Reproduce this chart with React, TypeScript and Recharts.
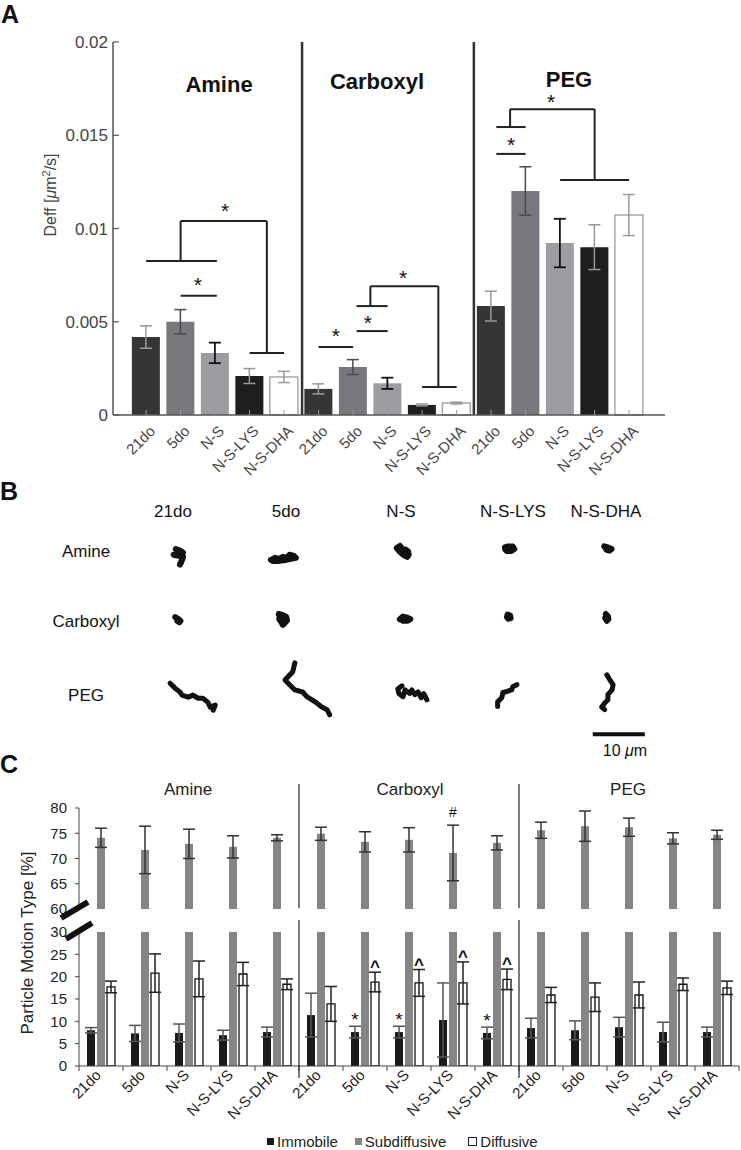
import React from "react";
import {
  ComposedChart,
  BarChart,
  LineChart,
  Bar,
  Line,
  XAxis,
  YAxis,
  ErrorBar,
  ReferenceLine,
  ReferenceDot,
  Cell,
} from "recharts";

const FONT = '"Liberation Sans", Arial, Helvetica, sans-serif';

// ---------- Panel A: effective diffusivity ----------
const conditions = ["21do", "5do", "N-S", "N-S-LYS", "N-S-DHA"];
const groups = ["Amine", "Carboxyl", "PEG"];

const deffAmine = [0.00418, 0.005, 0.00333, 0.00209, 0.00204];
const deffAmineErr = [0.0006, 0.00065, 0.00055, 0.0004, 0.0003];
const deffCarboxyl = [0.0014, 0.00257, 0.0017, 0.00054, 0.00064];
const deffCarboxylErr = [0.00027, 0.0004, 0.0003, 0.00005, 0.00005];
const deffPeg = [0.00584, 0.01201, 0.00922, 0.009, 0.01072];
const deffPegErr = [0.0008, 0.0013, 0.0013, 0.0012, 0.0011];

const deffTicks = [0, 0.005, 0.01, 0.015, 0.02];

// significance brackets [x1, y1, x2, y2] in (bar index, Deff) units
const bracketsAmine = [
  [0, 0.00826, 2.05, 0.00826],
  [1, 0.00826, 1, 0.0104],
  [1, 0.0104, 3.5, 0.0104],
  [3.5, 0.0104, 3.5, 0.00333],
  [3, 0.00333, 4, 0.00333],
  [1, 0.0064, 2.05, 0.0064],
];
const bracketsCarboxyl = [
  [5, 0.00365, 6, 0.00365],
  [6.1, 0.0045, 7, 0.0045],
  [6.1, 0.00584, 7, 0.00584],
  [6.5, 0.00584, 6.5, 0.0069],
  [6.5, 0.0069, 8.47, 0.0069],
  [8.47, 0.0069, 8.47, 0.0015],
  [8, 0.0015, 9, 0.0015],
];
const bracketsPeg = [
  [10.15, 0.014, 11, 0.014],
  [10.15, 0.01544, 11, 0.01544],
  [10.55, 0.01544, 10.55, 0.0164],
  [10.55, 0.0164, 13, 0.0164],
  [13, 0.0164, 13, 0.0126],
  [12, 0.0126, 14, 0.0126],
];
const starsA = [
  [2.29, 0.0111],
  [1.5, 0.00713],
  [5.5, 0.0044],
  [6.43, 0.0051],
  [7.45, 0.0075],
  [10.58, 0.01464],
  [11.74, 0.01694],
];

const fillA = ["#353535", "#77787b", "#9c9da0", "#1f1d1e", "#ffffff"];
const errKeyA = ["errL", "errD", "errK", "errL", "errL"];

const dataA = [
  [deffAmine, deffAmineErr],
  [deffCarboxyl, deffCarboxylErr],
  [deffPeg, deffPegErr],
].flatMap(([vals, errs], g) =>
  vals.map((v, i) => ({
    x: g * 5 + i,
    deff: v,
    [errKeyA[i]]: errs[i],
  }))
);

// ---------- Panel B: example trajectories (µm) ----------
const originsAmine = [
  [34.4, 16.5],
  [54.4, 16.7],
  [77.5, 15.6],
  [98.1, 15.2],
  [116.9, 15.0],
];
const tracksAmine = [
  [[-0.6, -1.3], [0.2, -1.0], [0.8, -0.6], [-0.2, -0.6], [-1.0, -0.2], [0, 0], [0.8, 0.2], [0.6, 0.8], [0.4, 1.3], [0.2, 1.7]],
  [[-2.3, 0.6], [-1.5, 0.2], [-0.8, 0.4], [0, 0], [0.8, 0.2], [1.3, -0.4], [2.1, -0.2], [2.5, 0.2], [1.5, 0.4], [0.4, 0.6], [-1.0, 0.8], [-1.9, 0.8]],
  [[-1.2, -0.6], [-0.6, -1.0], [-0.2, -0.5], [0.5, -0.3], [1.0, 0.1], [1.1, 0.7], [0.8, 1.1], [0.2, 0.8], [-0.4, 0.3], [-0.9, -0.2], [0.3, 0.2]],
  [[-1.0, -0.3], [-0.4, -0.5], [0.5, -0.5], [0.8, 0], [0.2, 0.4], [-0.6, 0.4], [-0.9, 0.1], [0.2, -0.1]],
  [[-0.7, -0.3], [0, -0.1], [0.7, 0.2], [0.3, 0.5], [-0.3, 0.3]],
];
const originsCarboxyl = [
  [34.2, 28.8],
  [54.4, 28.7],
  [77.9, 28.7],
  [97.9, 28.3],
  [116.7, 28.3],
];
const tracksCarboxyl = [
  [[-0.5, -0.5], [0, -0.2], [0.5, 0.2], [0.3, 0.5], [-0.1, 0.2]],
  [[-0.8, -1.0], [0, -0.8], [0.6, -0.5], [0.8, 0.2], [0.3, 0.8], [0, 1.1], [-0.3, 0.5], [-0.7, 0], [-0.6, -0.6], [0.1, -0.1]],
  [[-1.0, 0], [-0.4, -0.5], [0.4, -0.3], [1.0, 0], [0.5, 0.3], [-0.4, 0.3], [0, 0]],
  [[-0.3, -0.5], [0.2, -0.3], [0.3, 0.2], [-0.2, 0.3], [-0.4, 0]],
  [[-0.2, -0.6], [0.2, -0.2], [0.3, 0.4], [0, 0.7], [-0.3, 0.2]],
];
const originsPeg = [
  [32.7, 41.0],
  [56.7, 37.1],
  [77.3, 41.5],
  [99.4, 41.3],
  [116.7, 39.4],
];
const tracksPeg = [
  [[0, 0], [1.0, 1.0], [1.9, 1.7], [2.3, 2.3], [3.5, 2.7], [4.4, 2.3], [5.4, 2.9], [6.3, 2.9], [7.3, 3.7], [7.7, 4.6], [8.7, 4.2], [8.3, 5.2]],
  [[0, 0], [-0.4, 1.7], [-1.9, 3.3], [-1.0, 4.2], [0, 5.2], [1.5, 5.6], [2.3, 6.5], [3.3, 7.1], [4.2, 7.7], [5.2, 8.5], [6.2, 9.0], [6.7, 10.0]],
  [[0, 0], [-0.8, 0.6], [-0.6, 1.5], [0.2, 2.1], [0.6, 0.8], [1.5, 1.5], [1.9, 0.8], [2.5, 1.7], [3.1, 1.2], [3.7, 2.3], [4.2, 1.5], [4.8, 2.7]],
  [[0, 0], [-0.8, 0.4], [-1.0, 1.0], [-1.9, 1.3], [-2.7, 1.5], [-2.9, 2.5], [-3.7, 3.3], [-3.7, 4.2]],
  [[0, 0], [0.6, 1.0], [1.2, 1.9], [1.0, 2.9], [0.2, 3.8], [0.2, 4.8], [-0.4, 5.4], [-1.0, 6.2], [-0.4, 6.7]],
];
const scaleBar = [
  { x: 114, y: 50.8 },
  { x: 124, y: 50.8 },
];

// ---------- Panel C: motion type percentages ----------
const immAmine = [8.0, 7.3, 7.4, 6.9, 7.6];
const immAmineErr = [0.6, 1.8, 2.0, 1.1, 1.1];
const subAmine = [74.1, 71.7, 72.9, 72.3, 74.1];
const subAmineErr = [1.9, 4.7, 2.9, 2.2, 0.6];
const diffAmine = [17.7, 20.8, 19.5, 20.6, 18.3];
const diffAmineErr = [1.3, 4.3, 4.0, 2.6, 1.2];

const immCarboxyl = [11.4, 7.6, 7.6, 10.3, 7.4];
const immCarboxylErr = [4.9, 1.3, 1.3, 8.3, 1.3];
const subCarboxyl = [74.9, 73.3, 73.7, 71.1, 73.1];
const subCarboxylErr = [1.3, 2.0, 2.4, 5.5, 1.4];
const diffCarboxyl = [13.9, 18.8, 18.6, 18.6, 19.4];
const diffCarboxylErr = [3.9, 2.2, 3.0, 4.7, 2.3];

const immPeg = [8.5, 8.0, 8.7, 7.6, 7.6];
const immPegErr = [2.2, 2.1, 2.2, 2.2, 1.1];
const subPeg = [75.6, 76.4, 76.2, 74.0, 74.7];
const subPegErr = [1.6, 3.0, 1.8, 1.1, 0.9];
const diffPeg = [15.9, 15.4, 15.9, 18.3, 17.5];
const diffPegErr = [1.7, 3.2, 2.9, 1.4, 1.5];

const immMarksCarboxyl = ["", "*", "*", "", "*"];
const subMarksCarboxyl = ["", "", "", "#", ""];
const diffMarksCarboxyl = ["", "^", "^", "^", "^"];

const dataC = [
  [immAmine, immAmineErr, subAmine, subAmineErr, diffAmine, diffAmineErr],
  [immCarboxyl, immCarboxylErr, subCarboxyl, subCarboxylErr, diffCarboxyl, diffCarboxylErr],
  [immPeg, immPegErr, subPeg, subPegErr, diffPeg, diffPegErr],
].flatMap(([imm, immErr, sub, subErr, diff, diffErr], g) =>
  conditions.map((c, i) => ({
    key: `${groups[g]}|${c}`,
    imm: imm[i],
    immErr: immErr[i],
    sub: sub[i],
    subErr: subErr[i],
    diff: diff[i],
    diffErr: diffErr[i],
  }))
);

const textMark =
  (sym: string, dx: number, size: number, lift: number, bold = false) =>
  (p: any) =>
    (
      <text
        x={p.cx + dx}
        y={p.cy + lift}
        textAnchor="middle"
        fontSize={size}
        fontWeight={bold ? "bold" : "normal"}
        fill="#111"
        fontFamily={FONT}
      >
        {sym}
      </text>
    );

function renderATickX(props: any) {
  const { x, y, payload } = props;
  const ax = x + 10;
  const ay = y + 17;
  return (
    <g>
      <line x1={x} x2={x} y1={y - 5} y2={y} stroke="#999" strokeWidth={1} />
      <text
        x={ax}
        y={ay}
        transform={`rotate(-45 ${ax} ${ay})`}
        textAnchor="end"
        fontSize={15}
        fill="#444"
        fontFamily={FONT}
      >
        {conditions[payload.value % 5]}
      </text>
    </g>
  );
}

function renderATickY(props: any) {
  const { x, y, payload } = props;
  return (
    <g>
      <line x1={x} x2={x + 6} y1={y} y2={y} stroke="#555" strokeWidth={1.2} />
      <text x={x - 5} y={y + 6} textAnchor="end" fontSize={17} fill="#444" fontFamily={FONT}>
        {String(payload.value)}
      </text>
    </g>
  );
}

function renderCTickX(props: any) {
  const { x, y, payload, index } = props;
  const cond = String(payload.value).split("|")[1];
  const half = 22;
  const ax = x + 1;
  const ay = y + 10;
  return (
    <g>
      <line x1={x - half} x2={x - half} y1={y} y2={y + 5} stroke="#444" />
      {index === 14 && <line x1={x + half} x2={x + half} y1={y} y2={y + 5} stroke="#444" />}
      <text
        x={ax}
        y={ay}
        transform={`rotate(-45 ${ax} ${ay})`}
        textAnchor="end"
        fontSize={15}
        fill="#222"
        fontFamily={FONT}
      >
        {cond}
      </text>
    </g>
  );
}

function PanelA() {
  const brackets = [...bracketsAmine, ...bracketsCarboxyl, ...bracketsPeg];
  return (
    <div style={{ position: "absolute", left: 0, top: 0 }}>
      <ComposedChart
        width={741}
        height={505}
        data={dataA}
        margin={{ top: 42, right: 76, bottom: 0, left: 0 }}
      >
        <XAxis
          type="number"
          dataKey="x"
          domain={[-0.96, 15.04]}
          ticks={dataA.map((d) => d.x)}
          interval={0}
          height={90}
          tickSize={0}
          tickMargin={0}
          tickLine={false}
          axisLine={{ stroke: "#555", strokeWidth: 1.5 }}
          tick={renderATickX}
          allowDataOverflow
        />
        <YAxis
          type="number"
          domain={[0, 0.02]}
          ticks={deffTicks}
          interval={0}
          width={113}
          tickSize={0}
          tickMargin={0}
          tickLine={false}
          axisLine={{ stroke: "#555", strokeWidth: 1.5 }}
          tick={renderATickY}
        />
        <ReferenceLine x={4.52} stroke="#333" strokeWidth={2.5} />
        <ReferenceLine x={9.5} stroke="#333" strokeWidth={2.5} />
        <Bar dataKey="deff" barSize={28} isAnimationActive={false}>
          {dataA.map((d, i) => (
            <Cell
              key={i}
              fill={fillA[i % 5]}
              stroke={i % 5 === 4 ? "#a8a8a8" : "none"}
              strokeWidth={1.5}
            />
          ))}
          <ErrorBar dataKey="errL" direction="y" width={6} stroke="#999" strokeWidth={1.5} />
          <ErrorBar dataKey="errD" direction="y" width={6} stroke="#4a4a4a" strokeWidth={1.5} />
          <ErrorBar dataKey="errK" direction="y" width={6} stroke="#111" strokeWidth={1.8} />
        </Bar>
        {brackets.map(([x1, y1, x2, y2], i) => (
          <ReferenceLine
            key={`br${i}`}
            segment={[
              { x: x1, y: y1 },
              { x: x2, y: y2 },
            ]}
            stroke="#222"
            strokeWidth={2}
          />
        ))}
        {starsA.map(([x, y], i) => (
          <ReferenceDot key={`st${i}`} x={x} y={y} r={0} shape={textMark("*", 0, 21, 10)} />
        ))}
      </ComposedChart>
    </div>
  );
}

function PanelB() {
  const all = [
    ...tracksAmine.map((t, i) => ({ t, o: originsAmine[i], w: 6 })),
    ...tracksCarboxyl.map((t, i) => ({ t, o: originsCarboxyl[i], w: 6 })),
    ...tracksPeg.map((t, i) => ({ t, o: originsPeg[i], w: 5 })),
  ];
  return (
    <div style={{ position: "absolute", left: 0, top: 470 }}>
      <LineChart width={741} height={300} margin={{ top: 0, right: 0, bottom: 0, left: 0 }}>
        <XAxis type="number" dataKey="x" domain={[0, 142.5]} hide allowDataOverflow />
        <YAxis type="number" dataKey="y" domain={[0, 57.7]} reversed hide allowDataOverflow />
        {all.map(({ t, o, w }, i) => (
          <Line
            key={i}
            data={t.map(([dx, dy]) => ({ x: o[0] + dx, y: o[1] + dy }))}
            dataKey="y"
            stroke="#111"
            strokeWidth={w}
            strokeLinejoin="round"
            strokeLinecap="round"
            dot={false}
            isAnimationActive={false}
          />
        ))}
        <Line
          data={scaleBar}
          dataKey="y"
          stroke="#111"
          strokeWidth={4}
          dot={false}
          isAnimationActive={false}
        />
      </LineChart>
    </div>
  );
}

function PanelC() {
  return (
    <>
      <div style={{ position: "absolute", left: 0, top: 780 }}>
        <BarChart
          width={741}
          height={140}
          data={dataC}
          margin={{ top: 28, right: 2, bottom: 11, left: 0 }}
          barSize={8}
          barGap={2}
        >
          <XAxis dataKey="key" hide />
          <YAxis
            domain={[60, 80]}
            ticks={[60, 65, 70, 75, 80]}
            interval={0}
            width={79}
            tickSize={4}
            tickMargin={8}
            allowDataOverflow
            axisLine={{ stroke: "#444" }}
            tickLine={{ stroke: "#444" }}
            tick={{ fontSize: 15, fill: "#222", fontFamily: FONT }}
          />
          <Bar dataKey="immHidden" fill="#1a1a1a" isAnimationActive={false} />
          <Bar dataKey="sub" fill="#858585" isAnimationActive={false}>
            <ErrorBar dataKey="subErr" direction="y" width={6} stroke="#333" strokeWidth={1.5} />
          </Bar>
          <Bar dataKey="diffHidden" fill="#fff" isAnimationActive={false} />
          {dataC.map((d, i) =>
            i >= 5 && i < 10 && subMarksCarboxyl[i - 5] ? (
              <ReferenceDot
                key={`s${i}`}
                x={d.key}
                y={d.sub + d.subErr}
                r={0}
                shape={textMark(subMarksCarboxyl[i - 5], 0, 14, -8)}
              />
            ) : null
          )}
        </BarChart>
      </div>
      <div style={{ position: "absolute", left: 0, top: 900 }}>
        <BarChart
          width={741}
          height={250}
          data={dataC}
          margin={{ top: 32, right: 2, bottom: 0, left: 0 }}
          barSize={8}
          barGap={2}
        >
          <XAxis
            dataKey="key"
            height={84}
            interval={0}
            tickSize={0}
            tickMargin={0}
            tickLine={false}
            axisLine={{ stroke: "#444" }}
            tick={renderCTickX}
          />
          <YAxis
            domain={[0, 30]}
            ticks={[0, 5, 10, 15, 20, 25, 30]}
            interval={0}
            width={79}
            tickSize={4}
            tickMargin={8}
            allowDataOverflow
            axisLine={{ stroke: "#444" }}
            tickLine={{ stroke: "#444" }}
            tick={{ fontSize: 15, fill: "#222", fontFamily: FONT }}
          />
          <Bar dataKey="imm" fill="#1a1a1a" isAnimationActive={false}>
            <ErrorBar dataKey="immErr" direction="y" width={6} stroke="#555" strokeWidth={1.5} />
          </Bar>
          <Bar dataKey="sub" fill="#858585" isAnimationActive={false} />
          <Bar dataKey="diff" fill="#fff" stroke="#111" strokeWidth={1.3} isAnimationActive={false}>
            <ErrorBar dataKey="diffErr" direction="y" width={6} stroke="#222" strokeWidth={1.5} />
          </Bar>
          {dataC.map((d, i) =>
            i >= 5 && i < 10 && immMarksCarboxyl[i - 5] ? (
              <ReferenceDot
                key={`i${i}`}
                x={d.key}
                y={d.imm + d.immErr}
                r={0}
                shape={textMark(immMarksCarboxyl[i - 5], -10, 19, 0)}
              />
            ) : null
          )}
          {dataC.map((d, i) =>
            i >= 5 && i < 10 && diffMarksCarboxyl[i - 5] ? (
              <ReferenceDot
                key={`d${i}`}
                x={d.key}
                y={d.diff + d.diffErr}
                r={0}
                shape={textMark(diffMarksCarboxyl[i - 5], 10, 17, 0, true)}
              />
            ) : null
          )}
        </BarChart>
      </div>
    </>
  );
}

const abs = (left: number, top: number, extra: React.CSSProperties = {}): React.CSSProperties => ({
  position: "absolute",
  left,
  top,
  transform: "translate(-50%, -50%)",
  whiteSpace: "nowrap",
  lineHeight: 1.1,
  ...extra,
});

export default function App() {
  const bCols = [173, 286, 401, 513, 606];
  const bRows = [552, 622, 696];
  return (
    <div
      style={{
        position: "absolute",
        left: 0,
        top: 0,
        width: 741,
        height: 1150,
        background: "#fff",
        fontFamily: FONT,
        overflow: "hidden",
      }}
    >
      <PanelB />
      <PanelA />
      <PanelC />

      {/* panel letters */}
      <div style={abs(10, 14, { fontSize: 25, fontWeight: "bold", color: "#111", lineHeight: 1 })}>A</div>
      <div style={abs(9, 491, { fontSize: 25, fontWeight: "bold", color: "#111", lineHeight: 1 })}>B</div>
      <div style={abs(9, 764, { fontSize: 25, fontWeight: "bold", color: "#111", lineHeight: 1 })}>C</div>

      {/* panel A labels */}
      <div style={abs(50, 195, { fontSize: 16, color: "#444", transform: "translate(-50%, -50%) rotate(-90deg)" })}>
        Deff [<i>μ</i>m<sup style={{ fontSize: 11 }}>2</sup>/s]
      </div>
      <div style={abs(219, 85, { fontSize: 22, fontWeight: "bold", color: "#111" })}>Amine</div>
      <div style={abs(377, 82, { fontSize: 22, fontWeight: "bold", color: "#111" })}>Carboxyl</div>
      <div style={abs(569, 80, { fontSize: 22, fontWeight: "bold", color: "#111" })}>PEG</div>

      {/* panel B labels */}
      {conditions.map((c, i) => (
        <div key={c} style={abs(bCols[i], 512, { fontSize: 17, color: "#111" })}>
          {c}
        </div>
      ))}
      {groups.map((g, i) => (
        <div key={g} style={abs(86, bRows[i], { fontSize: 17, color: "#111" })}>
          {g}
        </div>
      ))}
      <div style={abs(625, 751, { fontSize: 16, color: "#111" })}>
        10 <i>μ</i>m
      </div>

      {/* panel C labels */}
      <div style={abs(188, 790, { fontSize: 17, color: "#222" })}>Amine</div>
      <div style={abs(410, 790, { fontSize: 17, color: "#222" })}>Carboxyl</div>
      <div style={abs(628, 790, { fontSize: 17, color: "#222" })}>PEG</div>
      <div style={abs(28, 943, { fontSize: 17, color: "#222", transform: "translate(-50%, -50%) rotate(-90deg)" })}>
        Particle Motion Type [%]
      </div>

      <svg width={741} height={1150} style={{ position: "absolute", left: 0, top: 0, pointerEvents: "none" }}>
        <line x1={299} x2={299} y1={784} y2={908} stroke="#222" strokeWidth={1.2} />
        <line x1={299} x2={299} y1={920} y2={1078} stroke="#222" strokeWidth={1.2} />
        <line x1={519} x2={519} y1={784} y2={908} stroke="#222" strokeWidth={1.2} />
        <line x1={519} x2={519} y1={920} y2={1078} stroke="#222" strokeWidth={1.2} />
        <line x1={61} y1={918} x2={88} y2={902} stroke="#111" strokeWidth={6} />
        <line x1={66} y1={939} x2={92} y2={923} stroke="#111" strokeWidth={6} />
      </svg>

      {/* legend */}
      <div
        style={{
          position: "absolute",
          left: 267,
          top: 1133,
          display: "flex",
          alignItems: "center",
          fontSize: 15,
          color: "#222",
          whiteSpace: "nowrap",
        }}
      >
        <span style={{ width: 7, height: 7, background: "#1a1a1a", marginRight: 3 }} />
        <span style={{ marginRight: 17 }}>Immobile</span>
        <span style={{ width: 7, height: 7, background: "#858585", marginRight: 3 }} />
        <span style={{ marginRight: 22 }}>Subdiffusive</span>
        <span style={{ width: 7, height: 7, border: "1.5px solid #222", marginRight: 3 }} />
        <span>Diffusive</span>
      </div>
    </div>
  );
}
